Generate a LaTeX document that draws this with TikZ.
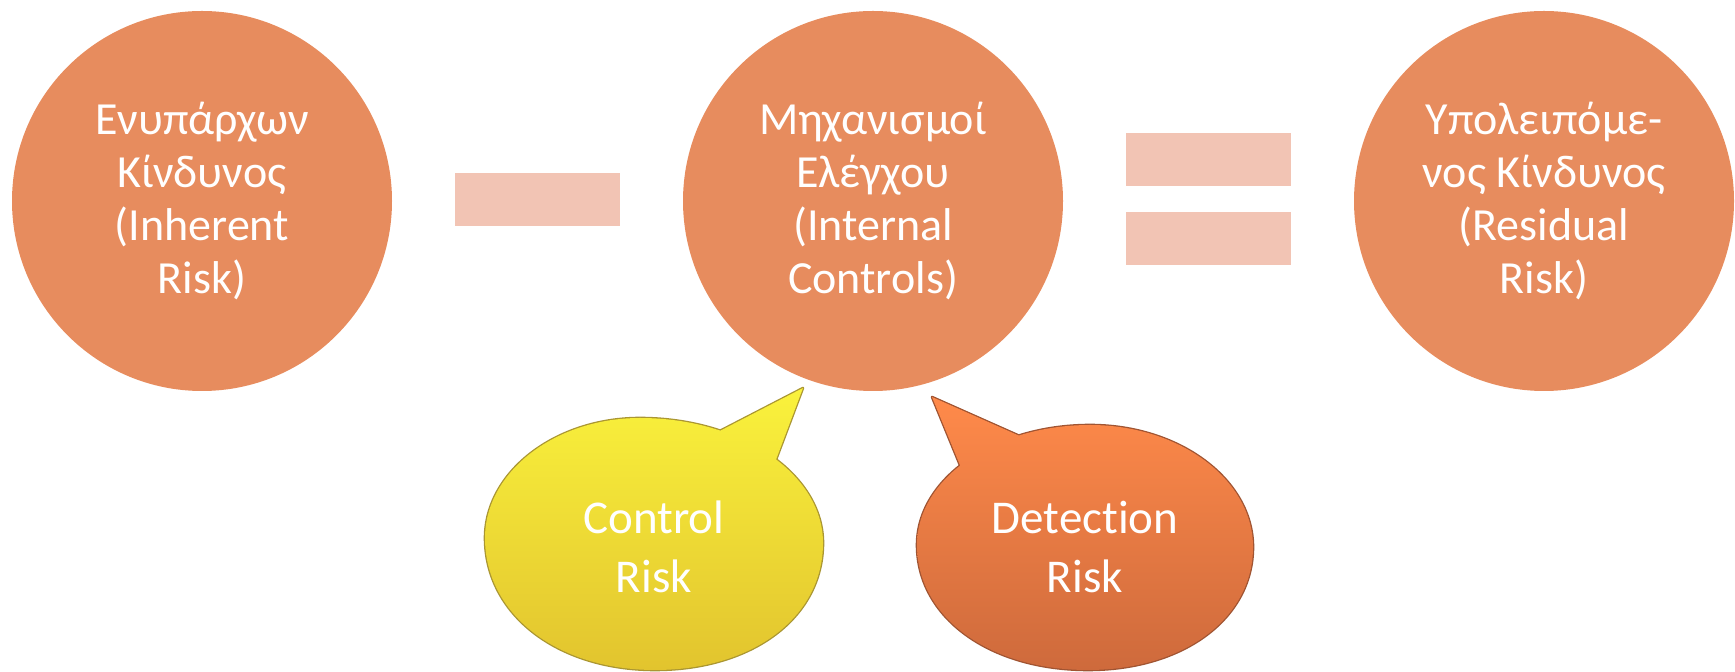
\documentclass[tikz,border=0pt]{standalone}
\usepackage{fontspec}
\setmainfont{Carlito}
\usetikzlibrary{calc}
\definecolor{ColCircle}{RGB}{231,140,94}
\definecolor{ColBar}{RGB}{242,196,180}
\definecolor{ColYelTop}{RGB}{250,242,60}
\definecolor{ColYelBot}{RGB}{226,196,46}
\definecolor{ColYelEdge}{RGB}{170,150,50}
\definecolor{ColOraTop}{RGB}{255,138,74}
\definecolor{ColOraBot}{RGB}{206,106,60}
\definecolor{ColOraEdge}{RGB}{160,84,50}

\begin{document}
\begin{tikzpicture}[
  x=0.5pt, y=0.5pt,
  line join=round,
  riskcircle/.style={circle, fill=ColCircle, minimum size=190pt, inner sep=0pt,
    align=center, text=white, font=\fontsize{23}{26.5}\selectfont},
  bar/.style={rectangle, fill=ColBar, minimum width=82.5pt, minimum height=26.5pt,
    inner sep=0pt},
  bubbletext/.style={align=center, text=white, font=\fontsize{23.5}{29.5}\selectfont},
  bubbleedge/.style={line width=1.3pt}
]
  \useasboundingbox (0,0) rectangle (1735,-672);

  % Three risk circles
  \node[riskcircle] (inh) at ( 202,-201) {Ενυπάρχων\\Κίνδυνος\\(Inherent\\Risk)};
  \node[riskcircle] (ctl) at ( 873,-201) {Μηχανισμοί\\Ελέγχου\\(Internal\\Controls)};
  \node[riskcircle] (res) at (1544,-201) {Υπολειπόμε-\\νος Κίνδυνος\\(Residual\\Risk)};

  % Minus and equals bars
  \node[bar] (minus) at ( 537,-200) {};
  \node[bar] (eqtop) at (1208,-160) {};
  \node[bar] (eqbot) at (1208,-239) {};

  % Yellow speech bubble (body + tail)
  \def\yelbody{(823,-543) .. controls (823,-474) and (741,-418) .. (640,-418)
    .. controls (555,-418) and (485,-472) .. (485,-538)
    .. controls (485,-614) and (557,-670) .. (655,-670)
    .. controls (753,-670) and (823,-617) .. (823,-543) -- cycle}
  \def\yeltail{(771,-473) -- (803,-388) -- (710,-436) -- cycle}
  \draw[bubbleedge, ColYelEdge] \yelbody \yeltail;
  \shade[top color=ColYelTop, bottom color=ColYelBot] \yelbody \yeltail;

  % Orange speech bubble (body + tail)
  \def\orabody{(1253,-547) .. controls (1253,-480) and (1180,-425) .. (1090,-425)
    .. controls (995,-425) and (917,-478) .. (917,-545)
    .. controls (917,-617) and (989,-670) .. (1088,-670)
    .. controls (1184,-670) and (1253,-618) .. (1253,-547) -- cycle}
  \def\oratail{(1022,-437) -- (932,-397) -- (964,-475) -- cycle}
  \draw[bubbleedge, ColOraEdge] \orabody \oratail;
  \shade[top color=ColOraTop, bottom color=ColOraBot] \orabody \oratail;

  \node[bubbletext] (crisk) at ( 654,-547) {Control\\Risk};
  \node[bubbletext] (drisk) at (1085,-547) {Detect\kern0pt ion\\Risk};
\end{tikzpicture}
\end{document}
